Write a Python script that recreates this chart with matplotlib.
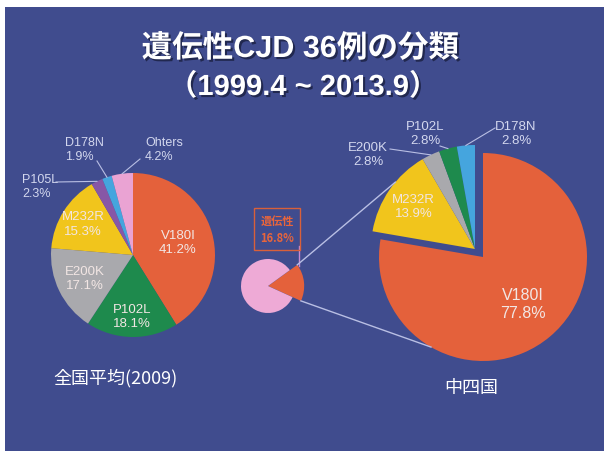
import numpy as np
import matplotlib.pyplot as plt
import matplotlib.patheffects as pe
from matplotlib.patches import Rectangle

plt.rcParams['font.family'] = ['Liberation Sans', 'Noto Sans CJK JP', 'DejaVu Sans']
CJK = ['Noto Sans CJK JP', 'DejaVu Sans']

W, H = 604, 452

# 全国平均(2009)
nat_labels = ['V180I', 'P102L', 'E200K', 'M232R', 'P105L', 'D178N', 'Ohters']
nat_values = [41.2, 18.1, 17.1, 15.3, 2.3, 1.9, 4.2]

# 中四国
reg_labels = ['V180I', 'M232R', 'E200K', 'P102L', 'D178N']
reg_values = [77.8, 13.9, 2.8, 2.8, 2.8]

# share of genetic CJD
share_labels = ['遺伝性', 'other']
share_values = [16.8, 83.2]

colors = {'V180I': '#e4613b', 'P102L': '#1e8a4d', 'E200K': '#a9a9ad',
          'M232R': '#f1c51c', 'P105L': '#8757a6', 'D178N': '#45a5de',
          'Ohters': '#eaa3d3'}

bg = '#404c8e'
txt_out = '#d3d7ee'
txt_in = '#f2e6e4'
line_c = '#b9bfe4'

fig = plt.figure(figsize=(6.04, 4.52), dpi=100)
fig.patch.set_facecolor('white')
ax = fig.add_axes([0, 0, 1, 1])

def Y(y):
    return H - y

def polar(c, r, ang):
    a = np.deg2rad(ang)
    return (c[0] + r * np.cos(a), c[1] + r * np.sin(a))

# ---- left pie ----
nc, nr = (133, Y(256)), 82
nw, _ = ax.pie(nat_values, center=nc, radius=nr, startangle=90, counterclock=False,
               colors=[colors[l] for l in nat_labels], wedgeprops=dict(linewidth=0))
inside_rf = {'V180I': 0.57, 'P102L': 0.74, 'E200K': 0.65, 'M232R': 0.72}
for w, lab, v in zip(nw, nat_labels, nat_values):
    mid = (w.theta1 + w.theta2) / 2
    if lab in inside_rf:
        x, y = polar(nc, nr * inside_rf[lab], mid)
        ax.text(x, y, f'{lab}\n{v}%', ha='center', va='center', color=txt_in,
                fontsize=9.5, linespacing=1.25)

# outer labels of the left pie: text anchor, leader start
nat_outer = {'P105L': ((22, 187), (56, 183)),
             'D178N': ((65, 150), (97, 162)),
             'Ohters': ((145, 150), (140, 160))}
for w, lab, v in zip(nw, nat_labels, nat_values):
    if lab in nat_outer:
        (tx, ty), (sx, sy) = nat_outer[lab]
        mid = (w.theta1 + w.theta2) / 2
        px, py = polar(nc, nr, mid)
        ax.text(tx, Y(ty), f'{lab}\n{v}%', ha='left', va='center', color=txt_out,
                fontsize=9, linespacing=1.3)
        ax.plot([sx, px], [Y(sy), py], color=line_c, lw=0.8)

# ---- small pie ----
sc, sr = (268, Y(287)), 27
sw, _ = ax.pie(share_values, center=sc, radius=sr, startangle=36, counterclock=False,
               explode=[0.18, 0], colors=['#e4613b', '#eeaad6'],
               wedgeprops=dict(linewidth=0))
sw[0].set_radius(36)

ax.text(277, Y(230), f'{share_labels[0]}\n{share_values[0]}%', ha='center', va='center',
        color='#e8653c', fontsize=8, family=CJK, fontweight='bold', linespacing=1.35,
        bbox=dict(boxstyle='square,pad=0.55', facecolor='none', edgecolor='#d9603a', lw=1))
ax.plot([299, 299], [Y(247), Y(267)], color='#c98bd2', lw=1)

# ---- big pie ----
rc, rr = (483, Y(258)), 104
rw, _ = ax.pie(reg_values, center=rc, radius=rr, startangle=90, counterclock=False,
               colors=[colors[l] for l in reg_labels], wedgeprops=dict(linewidth=0))
gc = (rc[0] - 8, rc[1] + 8)
for w in rw[1:]:
    w.set_center(gc)

reg_in = {'V180I': (rc, 0.59, 11.5), 'M232R': (gc, 0.72, 9.5)}
reg_outer = {'E200K': ((368, 155), (390, 150)),
             'P102L': ((425, 134), (440, 147)),
             'D178N': ((516, 134), (495, 129))}
for w, lab, v in zip(rw, reg_labels, reg_values):
    mid = (w.theta1 + w.theta2) / 2
    if lab in reg_in:
        c, rf, fs = reg_in[lab]
        x, y = polar(c, rr * rf, mid)
        ax.text(x, y, f'{lab}\n{v}%', ha='center', va='center', color=txt_in,
                fontsize=fs, linespacing=1.25)
    else:
        (tx, ty), (sx, sy) = reg_outer[lab]
        px, py = polar(gc, rr, mid)
        ax.text(tx, Y(ty), f'{lab}\n{v}%', ha='center', va='center', color=txt_out,
                fontsize=9.5, linespacing=1.3)
        ax.plot([sx, px], [Y(sy), py], color=line_c, lw=0.8)

# connectors small -> big
red = sw[0]
a1 = polar(red.center, red.r, red.theta2)
a2 = polar(red.center, red.r, red.theta1)
b1 = polar(gc, rr, 140)
b2 = polar(rc, rr, 240)
ax.plot([a1[0], b1[0]], [a1[1], b1[1]], color=line_c, lw=1)
ax.plot([a2[0], b2[0]], [a2[1], b2[1]], color=line_c, lw=1)

# ---- texts ----
shadow = [pe.withSimplePatchShadow(offset=(1.5, -1.5), shadow_rgbFace='#1a1f40', alpha=0.8)]
ax.text(300, Y(50), '遺伝性CJD 36例の分類', ha='center', va='center', color='white',
        fontsize=22, fontweight='bold', path_effects=shadow)
ax.text(303, Y(88), '（1999.4 ~ 2013.9）', ha='center', va='center', color='white',
        fontsize=21, fontweight='bold', path_effects=shadow)
ax.text(53, Y(378), '全国平均(2009)', ha='left', va='center', color='white',
        fontsize=13, family=CJK)
ax.text(471, Y(388), '中四国', ha='center', va='center', color='white',
        fontsize=13, family=CJK)

ax.add_patch(Rectangle((5, 0), W - 5, H - 8, facecolor=bg, edgecolor='none', zorder=0))
ax.set_xlim(0, W)
ax.set_ylim(0, H)
ax.set_aspect('equal')
ax.axis('off')

fig.savefig('out.png', dpi=100, facecolor='white')
